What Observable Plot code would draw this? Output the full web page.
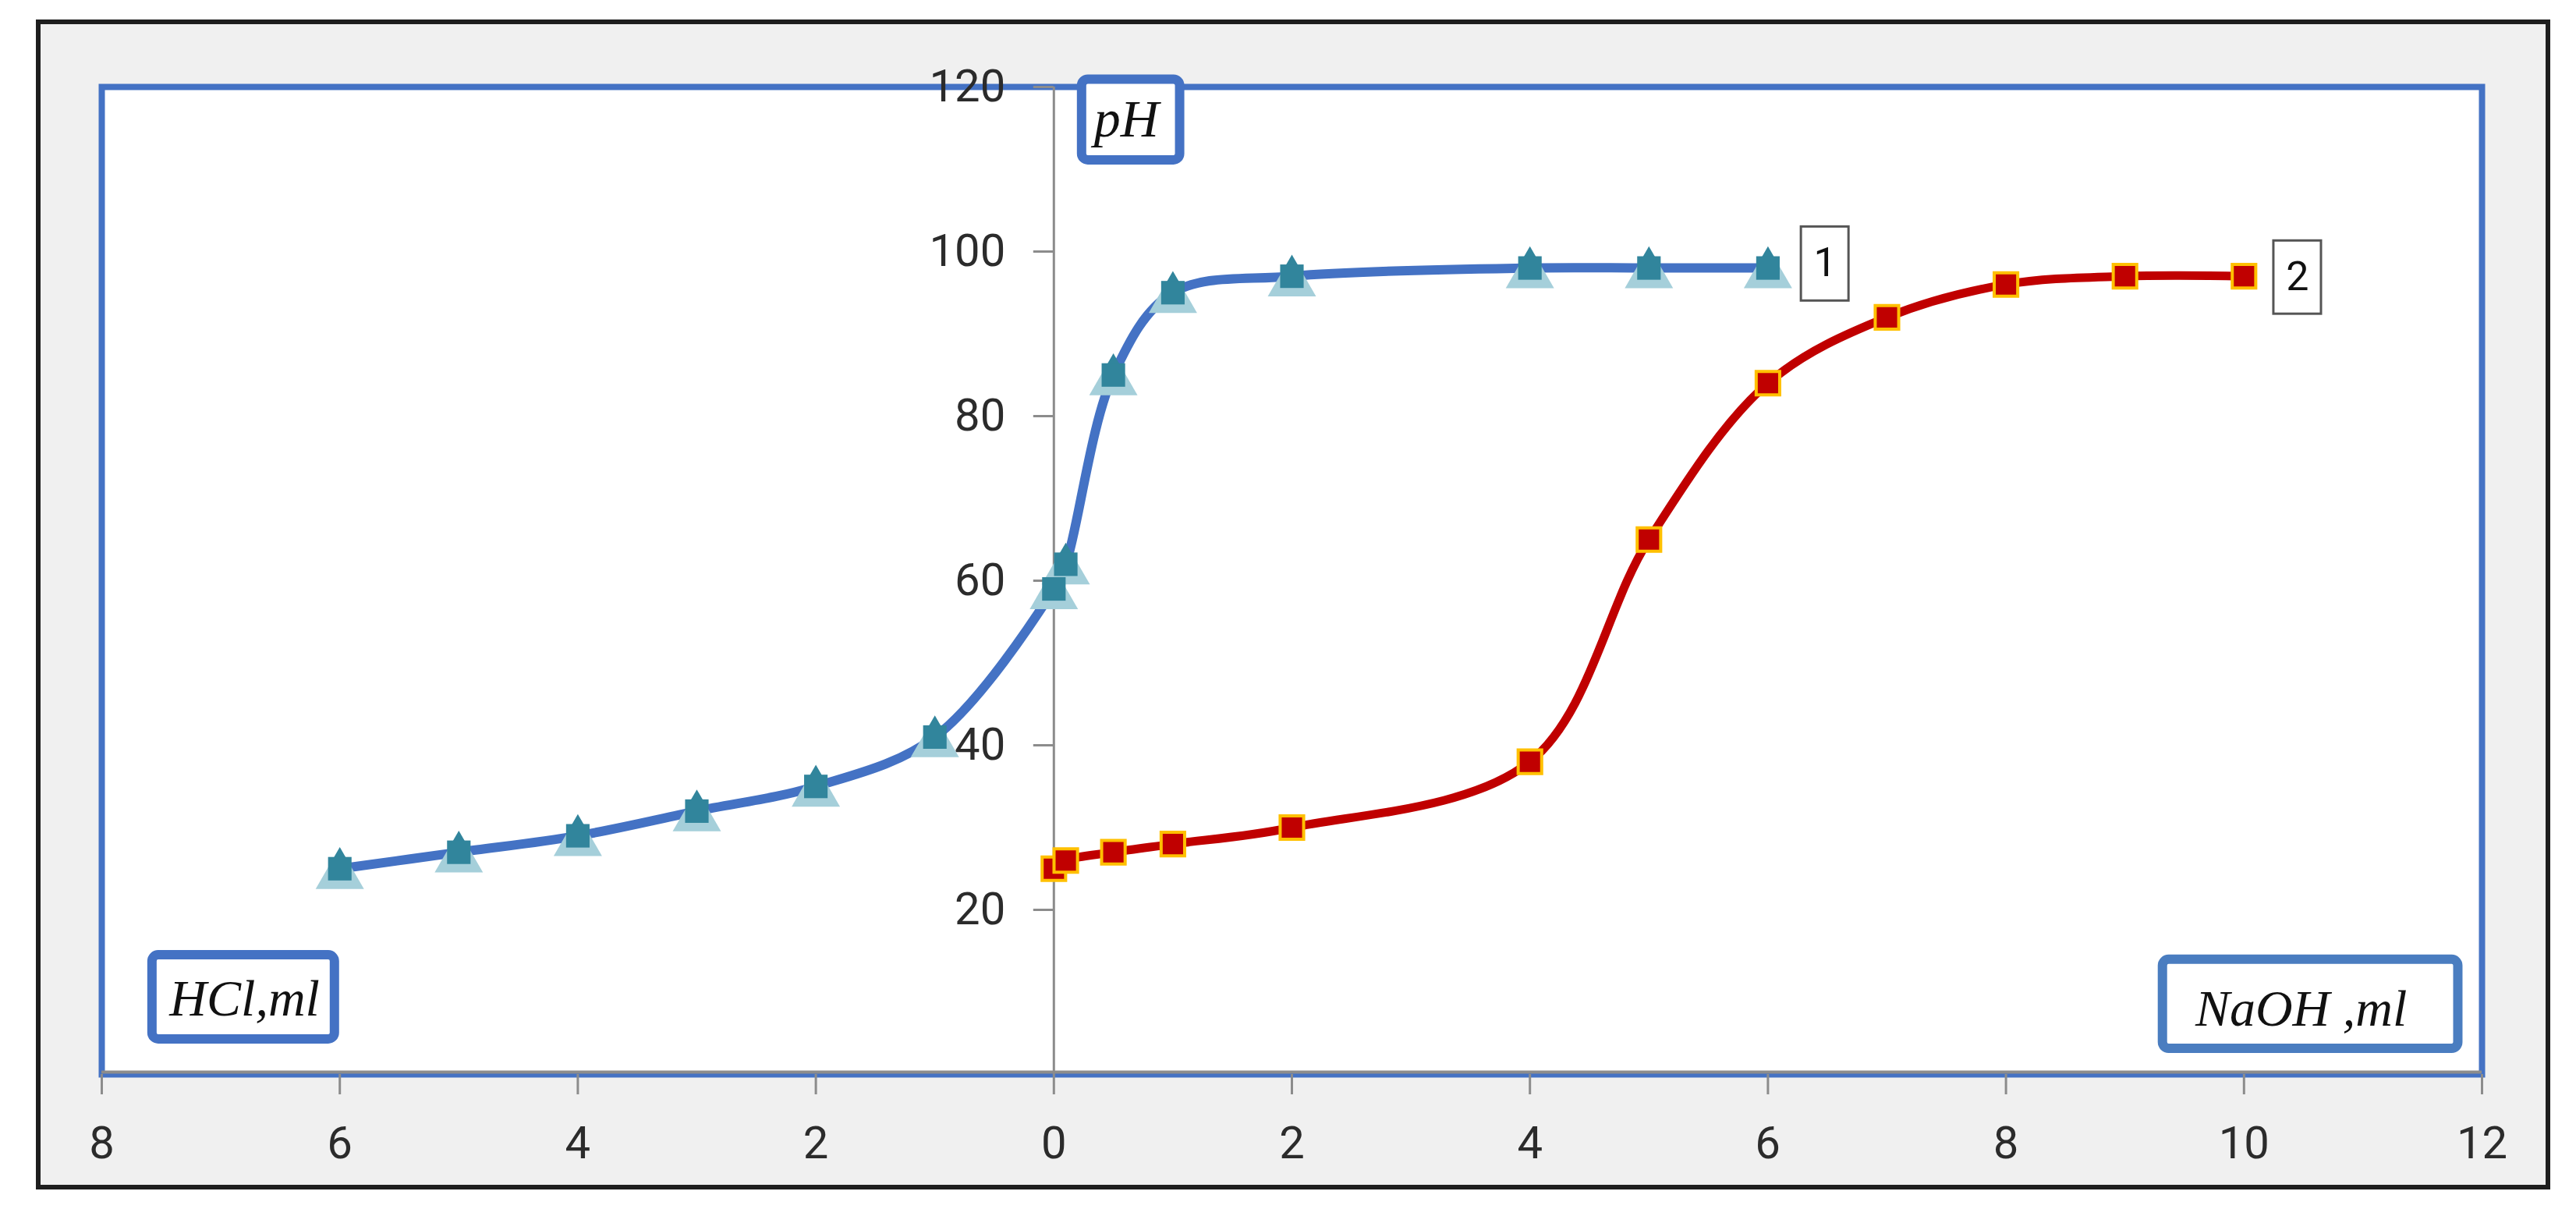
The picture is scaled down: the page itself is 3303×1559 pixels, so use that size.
<!DOCTYPE html>
<html><head><meta charset="utf-8">
<script src="https://cdn.jsdelivr.net/npm/d3@7"></script>
<script src="https://cdn.jsdelivr.net/npm/@observablehq/plot@0.6"></script>
<style>
html,body{margin:0;padding:0;background:#fff;}
#wrap{position:relative;width:3303px;height:1559px;overflow:hidden;}
#area{position:absolute;left:46px;top:25px;width:3212px;height:1488px;background:#f0f0f0;border:6px solid #1e1e1e;}
#chart{position:absolute;left:0;top:0;}
</style></head><body>
<div id="wrap"><div id="area"></div><div id="chart"></div></div>
<script>
// Curve 1: titration (negative x = HCl, ml ; positive x = NaOH, ml)
const series1X  = [-6, -5, -4, -3, -2, -1, 0, 0.1, 0.5, 1, 2, 4, 5, 6];
const series1pH = [25, 27, 29, 32, 35, 41, 59, 62, 85, 95, 97, 98, 98, 98];
// Curve 2: NaOH, ml
const series2X  = [0, 0.1, 0.5, 1, 2, 4, 5, 6, 7, 8, 9, 10];
const series2pH = [25, 26, 27, 28, 30, 38, 65, 84, 92, 96, 97, 97];
// Axis ticks
const xTicks = [-8, -6, -4, -2, 0, 2, 4, 6, 8, 10, 12];
const yTicks = [20, 40, 60, 80, 100, 120];
const yAxisLabel = "pH";
const xLeftLabel = "HCl,ml";
const xRightLabel = "NaOH ,ml";
const seriesLabels = ["1", "2"];

const s1 = series1X.map((x, i) => ({x, y: series1pH[i]}));
const s2 = series2X.map((x, i) => ({x, y: series2pH[i]}));

const BLUE = "#4472C4", RED = "#C00000", TEAL = "#31859C", LTEAL = "#A5CFDA", GOLD = "#FFC000";
const AX = "#8c8c8c", TXT = "#2b2b2b";
const SANS = "Roboto, 'Liberation Sans', sans-serif";
const SERIF = "'Liberation Serif', 'DejaVu Serif', serif";

const gradientDefs = () => {
  const ns = "http://www.w3.org/2000/svg";
  const defs = document.createElementNS(ns, "defs");
  const g = document.createElementNS(ns, "linearGradient");
  g.setAttribute("id", "triGrad");
  g.setAttribute("x1", "0"); g.setAttribute("y1", "0");
  g.setAttribute("x2", "0"); g.setAttribute("y2", "1");
  [["0", TEAL], ["0.4", TEAL], ["0.5", LTEAL], ["1", LTEAL]].forEach(([o, c]) => {
    const s = document.createElementNS(ns, "stop");
    s.setAttribute("offset", o); s.setAttribute("stop-color", c);
    g.appendChild(s);
  });
  defs.appendChild(g);
  return defs;
};

const chart = Plot.plot({
  width: 3303, height: 1559,
  marginLeft: 130, marginRight: 121, marginTop: 111, marginBottom: 182,
  style: {background: "transparent", overflow: "visible"},
  x: {domain: [-8, 12], axis: null},
  y: {domain: [0, 120], axis: null},
  marks: [
    gradientDefs,
    Plot.frame({fill: "white", stroke: BLUE, strokeWidth: 8}),
    Plot.ruleY([0], {stroke: AX, strokeWidth: 4, dy: -3}),
    Plot.axisX(xTicks, {tickFormat: d => Math.abs(d), tickSize: 26, tickPadding: 40, label: null,
      stroke: AX, strokeWidth: 3, fill: TXT, fontSize: 58, fontFamily: SANS}),
    Plot.ruleX([0], {y1: 0, y2: 120, stroke: AX, strokeWidth: 3}),
    Plot.ruleY(yTicks, {y: d => d, x1: 0, x2: 0, insetLeft: -26, insetRight: 0, stroke: AX, strokeWidth: 3}),
    Plot.text(yTicks, {x: 0, y: d => d, text: d => String(d), textAnchor: "end", dx: -62,
      fontSize: 58, fontFamily: SANS, fill: TXT}),
    Plot.line(s1, {x: "x", y: "y", curve: "catmull-rom", stroke: BLUE, strokeWidth: 12}),
    Plot.line(s2, {x: "x", y: "y", curve: "catmull-rom", stroke: RED, strokeWidth: 11}),
    Plot.dot(s1, {x: "x", y: "y", symbol: "triangle", r: 23, dy: 8, fill: "url(#triGrad)"}),
    Plot.dot(s1, {x: "x", y: "y", symbol: "square", r: 17, fill: TEAL}),
    Plot.dot(s2, {x: "x", y: "y", symbol: "square", r: 17, fill: RED, stroke: GOLD, strokeWidth: 4}),
    // axis-title boxes
    Plot.rect([yAxisLabel], {x1: 0.236, x2: 1.06, y1: 111.1, y2: 120.9, fill: "white", stroke: BLUE, strokeWidth: 12, rx: 8}),
    Plot.text([yAxisLabel], {x: 0.61, y: 116, text: d => d, fontSize: 68, fontFamily: SERIF, fontStyle: "italic", fill: "#111"}),
    Plot.rect([xLeftLabel], {x1: -7.575, x2: -6.042, y1: 4.27, y2: 14.5, fill: "white", stroke: BLUE, strokeWidth: 12, rx: 8}),
    Plot.text([xLeftLabel], {x: -6.80, y: 9.2, text: d => d, fontSize: 66, fontFamily: SERIF, fontStyle: "italic", fill: "#111"}),
    Plot.rect([xRightLabel], {x1: 9.318, x2: 11.80, y1: 3.13, y2: 13.95, fill: "white", stroke: "#4A7DC0", strokeWidth: 12, rx: 8}),
    Plot.text([xRightLabel], {x: 10.48, y: 7.9, text: d => d, fontSize: 66, fontFamily: SERIF, fontStyle: "italic", fill: "#111"}),
    // series number labels
    Plot.rect([seriesLabels[0]], {x1: 6.28, x2: 6.68, y1: 94.0, y2: 103.0, fill: "white", stroke: "#555", strokeWidth: 3}),
    Plot.text([seriesLabels[0]], {x: 6.48, y: 98.6, text: d => d, fontSize: 52, fontFamily: SANS, fill: "#111"}),
    Plot.rect([seriesLabels[1]], {x1: 10.25, x2: 10.65, y1: 92.4, y2: 101.3, fill: "white", stroke: "#555", strokeWidth: 3}),
    Plot.text([seriesLabels[1]], {x: 10.45, y: 96.9, text: d => d, fontSize: 52, fontFamily: SANS, fill: "#111"})
  ]
});
document.getElementById("chart").appendChild(chart);
</script>
</body></html>
